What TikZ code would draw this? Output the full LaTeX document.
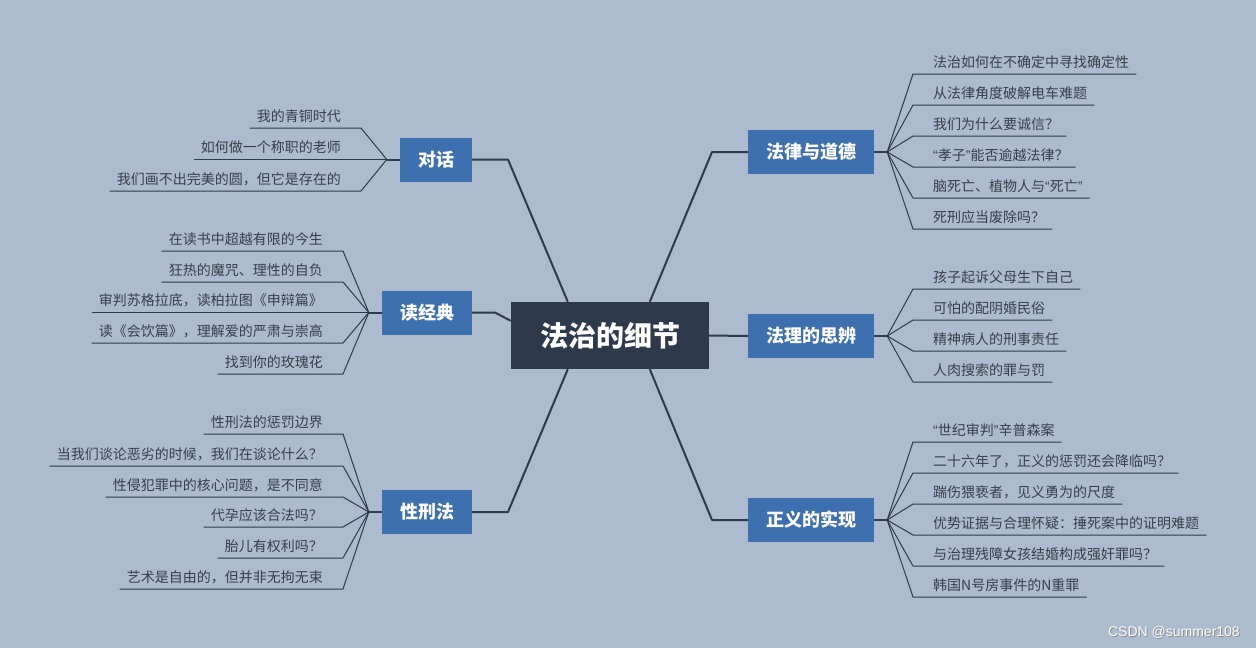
\documentclass[tikz,border=0pt]{standalone}
\usepackage{fontspec}
\newfontfamily\cjk{Noto Sans CJK SC}
\newfontfamily\wm{Liberation Sans}
\newcommand{\oq}{{\wm “}}
\newcommand{\cq}{{\wm ”}}
\usetikzlibrary{calc}
\definecolor{bg}{HTML}{ADBBCF}
\definecolor{centralc}{HTML}{2E3A4B}
\definecolor{branchc}{HTML}{3E6FAE}
\definecolor{linec}{HTML}{2F3A4A}
\definecolor{leaftext}{HTML}{383F4A}
\tikzset{
  central/.style={fill=centralc, text=white, font=\cjk\bfseries\fontsize{28}{30}\selectfont,
    minimum width=198pt, minimum height=67pt, inner sep=0pt},
  branch/.style={fill=branchc, text=white, font=\cjk\bfseries\fontsize{18}{20}\selectfont,
    minimum height=44pt, inner xsep=18pt, inner ysep=0pt},
  leaf/.style={text=leaftext, font=\cjk\fontsize{14}{16}\selectfont, inner sep=0pt},
  mainline/.style={draw=linec, line width=2pt, line join=round},
  leafline/.style={draw=linec, line width=1pt, line join=round},
}
% right leaf: fan, name, underline y, text
\newcommand{\leafR}[4]{%
  \node[leaf, anchor=base west] (#2) at (933,#3-7) {#4};
  \coordinate (#2a) at (913,#3);
  \draw[leafline] (#1) -- (#2a) -- ($(#2.base east)+(7,7)$);
}
% left leaf: fan, name, underline y, x end, text
\newcommand{\leafL}[5]{%
  \node[leaf, anchor=base east] (#2) at (#4-20,#3-7) {#5};
  \coordinate (#2a) at (#4,#3);
  \draw[leafline] (#1) -- (#2a) -- ($(#2.base west)+(-7,7)$);
}
\begin{document}
\begin{tikzpicture}[x=1pt,y=-1pt]
\fill[bg] (0,0) rectangle (1256,648);
\useasboundingbox (0,0) rectangle (1256,648);

\node[central] (c) at (610,335.5) {法治的细节};

\node[branch] (b1) at (811,152) {法律与道德};
\node[branch] (b2) at (811,336) {法理的思辨};
\node[branch] (b3) at (811,520) {正义的实现};
\node[branch] (a1) at (436,159.5) {对话};
\node[branch] (a2) at (427,312.5) {读经典};
\node[branch] (a3) at (427,512) {性刑法};

\coordinate (k1) at (712,152);
\coordinate (k3) at (712,520);
\coordinate (j1) at (508,159.5);
\coordinate (j2) at (495,312.5);
\coordinate (j3) at (508,512);

\draw[mainline] ([xshift=139pt]c.north west) -- (k1) -- (b1.west);
\draw[mainline] (c.east) -- (b2.west);
\draw[mainline] ([xshift=139pt]c.south west) -- (k3) -- (b3.west);
\draw[mainline] ([xshift=57pt]c.north west) -- (j1) -- (a1.east);
\draw[mainline] ([yshift=-19pt]c.north west) -- (j2) -- (a2.east);
\draw[mainline] ([xshift=57pt]c.south west) -- (j3) -- (a3.east);

% fans
\coordinate (f1) at ($(b1.east)+(13,0)$);
\coordinate (f2) at ($(b2.east)+(13,0)$);
\coordinate (f3) at ($(b3.east)+(13,0)$);
\coordinate (g1) at ($(a1.west)+(-13,0)$);
\coordinate (g2) at ($(a2.west)+(-13,0)$);
\coordinate (g3) at ($(a3.west)+(-13,0)$);
\draw[mainline] (b1.east) -- (f1);
\draw[mainline] (b2.east) -- (f2);
\draw[mainline] (b3.east) -- (f3);
\draw[mainline] (a1.west) -- (g1);
\draw[mainline] (a2.west) -- (g2);
\draw[mainline] (a3.west) -- (g3);

% 法律与道德
\leafR{f1}{r11}{74}{法治如何在不确定中寻找确定性}
\leafR{f1}{r12}{105}{从法律角度破解电车难题}
\leafR{f1}{r13}{136}{我们为什么要诚信？}
\leafR{f1}{r14}{167}{\oq 孝子\cq 能否逾越法律？}
\leafR{f1}{r15}{198}{脑死亡、植物人与\oq 死亡\cq}
\leafR{f1}{r16}{229}{死刑应当废除吗？}

% 法理的思辨
\leafR{f2}{r21}{289}{孩子起诉父母生下自己}
\leafR{f2}{r22}{320}{可怕的配阴婚民俗}
\leafR{f2}{r23}{351}{精神病人的刑事责任}
\leafR{f2}{r24}{382}{人肉搜索的罪与罚}

% 正义的实现
\leafR{f3}{r31}{442}{\oq 世纪审判\cq 辛普森案}
\leafR{f3}{r32}{473}{二十六年了，正义的惩罚还会降临吗？}
\leafR{f3}{r33}{504}{踹伤猥亵者，见义勇为的尺度}
\leafR{f3}{r34}{535}{优势证据与合理怀疑：捶死案中的证明难题}
\leafR{f3}{r35}{566}{与治理残障女孩结婚构成强奸罪吗？}
\leafR{f3}{r36}{597}{韩国N号房事件的N重罪}

% 对话
\leafL{g1}{l11}{128}{361}{我的青铜时代}
\leafL{g1}{l12}{159.5}{361}{如何做一个称职的老师}
\leafL{g1}{l13}{191}{361}{我们画不出完美的圆，但它是存在的}

% 读经典
\leafL{g2}{l21}{251}{343}{在读书中超越有限的今生}
\leafL{g2}{l22}{282}{343}{狂热的魔咒、理性的自负}
\leafL{g2}{l23}{312.5}{343}{审判苏格拉底，读柏拉图《申辩篇》}
\leafL{g2}{l24}{343}{343}{读《会饮篇》，理解爱的严肃与崇高}
\leafL{g2}{l25}{374}{343}{找到你的玫瑰花}

% 性刑法
\leafL{g3}{l31}{434}{343}{性刑法的惩罚边界}
\leafL{g3}{l32}{466}{343}{当我们谈论恶劣的时候，我们在谈论什么？}
\leafL{g3}{l33}{497}{343}{性侵犯罪中的核心问题，是不同意}
\leafL{g3}{l34}{527}{343}{代孕应该合法吗？}
\leafL{g3}{l35}{558}{343}{胎儿有权利吗？}
\leafL{g3}{l36}{589}{343}{艺术是自由的，但并非无拘无束}

% watermark
\node[font=\wm\fontsize{14}{16}\selectfont, text=black!45, anchor=east, inner sep=0pt] (wmS) at (1241,633) {CSDN @summer108};
\node[font=\wm\fontsize{14}{16}\selectfont, text=white!94!bg, anchor=east, inner sep=0pt] (wm) at (1240,632) {CSDN @summer108};
\end{tikzpicture}
\end{document}
